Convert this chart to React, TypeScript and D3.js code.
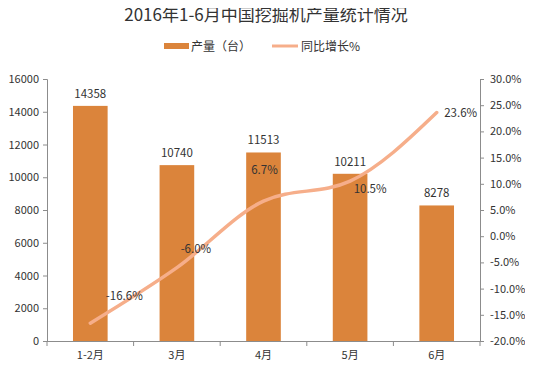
import React, { useEffect, useRef } from "react";
import * as d3 from "d3";

const months = ["1-2月", "3月", "4月", "5月", "6月"];
const output = [14358, 10740, 11513, 10211, 8278];
const growth = [-16.6, -6.0, 6.7, 10.5, 23.6];
const leftTicks = [0, 2000, 4000, 6000, 8000, 10000, 12000, 14000, 16000];
const rightTicks = [-20, -15, -10, -5, 0, 5, 10, 15, 20, 25, 30];

// where each growth label sits relative to its point
const labelShift = [
  [34, -27],
  [19, -19],
  [1, -31],
  [20, 8],
  [24, 0],
];

const FONT = "'Microsoft YaHei', 'Noto Sans CJK SC', 'Noto Sans', sans-serif";
const BAR = "#DB843B";
const LINE = "#F6AE8A";
const AXIS = "#8c8c8c";
const TEXT = "#333";

const App = () => {
  const ref = useRef<SVGSVGElement>(null);

  useEffect(() => {
    const width = 533;
    const height = 370;
    const margin = { top: 79, right: 53, bottom: 29, left: 47 };

    const svg = d3.select(ref.current);
    svg.selectAll("*").remove();
    svg.style("font-family", FONT);

    svg.append("rect").attr("width", width).attr("height", height).attr("fill", "#fff");

    const x = d3
      .scaleBand()
      .domain(months)
      .range([margin.left, width - margin.right])
      .paddingInner(0.6)
      .paddingOuter(0.3);

    const y = d3
      .scaleLinear()
      .domain([0, 16000])
      .range([height - margin.bottom, margin.top]);

    const y2 = d3
      .scaleLinear()
      .domain([-20, 30])
      .range([height - margin.bottom, margin.top]);

    // title
    svg
      .append("text")
      .attr("x", 266)
      .attr("y", 21)
      .attr("text-anchor", "middle")
      .attr("font-size", 17)
      .attr("fill", TEXT)
      .text("2016年1-6月中国挖掘机产量统计情况");

    // legend
    const lg = svg.append("g").attr("font-size", 12).attr("fill", TEXT);
    lg.append("rect").attr("x", 164).attr("y", 43).attr("width", 25).attr("height", 6).attr("fill", BAR);
    lg.append("text").attr("x", 191).attr("y", 51).attr("fill", TEXT).text("产量（台）");
    lg.append("line")
      .attr("x1", 272).attr("x2", 298).attr("y1", 46).attr("y2", 46)
      .attr("stroke", LINE).attr("stroke-width", 3);
    lg.append("text").attr("x", 301).attr("y", 51).attr("fill", TEXT).text("同比增长%");

    // bars
    svg
      .append("g")
      .attr("fill", BAR)
      .selectAll("rect")
      .data(output)
      .join("rect")
      .attr("x", (d, i) => x(months[i])!)
      .attr("y", (d) => y(d))
      .attr("width", x.bandwidth())
      .attr("height", (d) => y(0) - y(d));

    svg
      .append("g")
      .attr("font-size", 11.5)
      .attr("text-anchor", "middle")
      .attr("fill", TEXT)
      .selectAll("text")
      .data(output)
      .join("text")
      .attr("x", (d, i) => x(months[i])! + x.bandwidth() / 2)
      .attr("y", (d) => y(d) - 8)
      .text((d) => d);

    // axes
    const axL = svg
      .append("g")
      .attr("transform", `translate(${margin.left},0)`)
      .call(
        d3
          .axisLeft(y)
          .tickValues(leftTicks)
          .tickSize(4)
          .tickPadding(4)
          .tickFormat((d) => String(d))
      );
    const axR = svg
      .append("g")
      .attr("transform", `translate(${width - margin.right},0)`)
      .call(
        d3
          .axisRight(y2)
          .tickValues(rightTicks)
          .tickSize(4)
          .tickPadding(6)
          .tickFormat((d) => (d as number).toFixed(1) + "%")
      );
    const axB = svg
      .append("g")
      .attr("transform", `translate(0,${height - margin.bottom})`)
      .call(d3.axisBottom(x).tickSize(0).tickPadding(10));

    // x-axis ticks sit between categories
    const slot = (width - margin.left - margin.right) / months.length;
    axB
      .selectAll("line.sep")
      .data(d3.range(months.length + 1))
      .join("line")
      .attr("class", "sep")
      .attr("x1", (i) => margin.left + i * slot)
      .attr("x2", (i) => margin.left + i * slot)
      .attr("y1", 0)
      .attr("y2", 5)
      .attr("stroke", AXIS);

    [axL, axR, axB].forEach((ax) => {
      ax.selectAll("path").attr("stroke", AXIS);
      ax.selectAll("line").attr("stroke", AXIS);
      ax.selectAll("text").attr("fill", TEXT).attr("font-size", 11).attr("font-family", FONT);
    });
    axB.select("path.domain").attr("d", `M${margin.left},0.5H${width - margin.right}`);

    // growth line
    const cx = (i: number) => x(months[i])! + x.bandwidth() / 2;
    const line = d3
      .line<number>()
      .x((d, i) => cx(i))
      .y((d) => y2(d))
      .curve(d3.curveMonotoneX);

    svg
      .append("path")
      .datum(growth)
      .attr("d", line)
      .attr("fill", "none")
      .attr("stroke", LINE)
      .attr("stroke-width", 3.5)
      .attr("stroke-linecap", "round");

    svg
      .append("g")
      .attr("font-size", 11.5)
      .attr("text-anchor", "middle")
      .attr("fill", TEXT)
      .selectAll("text")
      .data(growth)
      .join("text")
      .attr("x", (d, i) => cx(i) + labelShift[i][0])
      .attr("y", (d, i) => y2(d) + labelShift[i][1] + 4)
      .text((d) => d.toFixed(1) + "%");
  }, []);

  return <svg ref={ref} width={533} height={370} style={{ display: "block", margin: -8 }} />;
};

export default App;
